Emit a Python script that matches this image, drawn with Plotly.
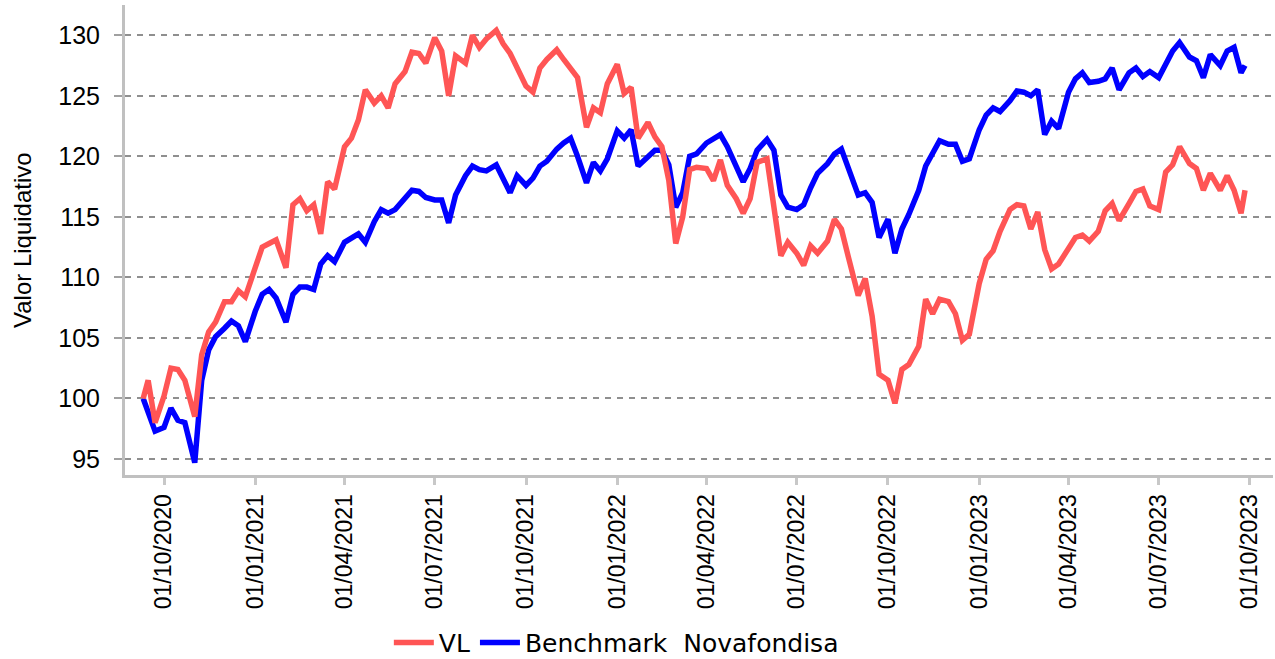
import plotly.graph_objects as go

dates = [
    "2020-09-10", "2020-09-15", "2020-09-22",
    "2020-10-01", "2020-10-08", "2020-10-15", "2020-10-22",
    "2020-11-01", "2020-11-08", "2020-11-15", "2020-11-22",
    "2020-12-01", "2020-12-08", "2020-12-15", "2020-12-22",
    "2021-01-01", "2021-01-08", "2021-01-15", "2021-01-22",
    "2021-02-01", "2021-02-08", "2021-02-15", "2021-02-22",
    "2021-03-01", "2021-03-08", "2021-03-15", "2021-03-22",
    "2021-04-01", "2021-04-08", "2021-04-15", "2021-04-22",
    "2021-05-01", "2021-05-08", "2021-05-15", "2021-05-22",
    "2021-06-01", "2021-06-08", "2021-06-15", "2021-06-22",
    "2021-07-01", "2021-07-08", "2021-07-15", "2021-07-22",
    "2021-08-01", "2021-08-08", "2021-08-15", "2021-08-22",
    "2021-09-01", "2021-09-08", "2021-09-15", "2021-09-22",
    "2021-10-01", "2021-10-08", "2021-10-15", "2021-10-22",
    "2021-11-01", "2021-11-08", "2021-11-15", "2021-11-22",
    "2021-12-01", "2021-12-08", "2021-12-15", "2021-12-22",
    "2022-01-01", "2022-01-08", "2022-01-15", "2022-01-22",
    "2022-02-01", "2022-02-08", "2022-02-15", "2022-02-22",
    "2022-03-01", "2022-03-08", "2022-03-15", "2022-03-22",
    "2022-04-01", "2022-04-08", "2022-04-15", "2022-04-22",
    "2022-05-01", "2022-05-08", "2022-05-15", "2022-05-22",
    "2022-06-01", "2022-06-08", "2022-06-15", "2022-06-22",
    "2022-07-01", "2022-07-08", "2022-07-15", "2022-07-22",
    "2022-08-01", "2022-08-08", "2022-08-15", "2022-08-22",
    "2022-09-01", "2022-09-08", "2022-09-15", "2022-09-22",
    "2022-10-01", "2022-10-08", "2022-10-15", "2022-10-22",
    "2022-11-01", "2022-11-08", "2022-11-15", "2022-11-22",
    "2022-12-01", "2022-12-08", "2022-12-15", "2022-12-22",
    "2023-01-01", "2023-01-08", "2023-01-15", "2023-01-22",
    "2023-02-01", "2023-02-08", "2023-02-15", "2023-02-22",
    "2023-03-01", "2023-03-08", "2023-03-15", "2023-03-22",
    "2023-04-01", "2023-04-08", "2023-04-15", "2023-04-22",
    "2023-05-01", "2023-05-08", "2023-05-15", "2023-05-22",
    "2023-06-01", "2023-06-08", "2023-06-15", "2023-06-22",
    "2023-07-01", "2023-07-08", "2023-07-15", "2023-07-22",
    "2023-08-01", "2023-08-08", "2023-08-15", "2023-08-22",
    "2023-09-01", "2023-09-08", "2023-09-15", "2023-09-22", "2023-09-26",
]

vl = [
    100.0, 101.5, 98.0,
    100.2, 102.5, 102.4, 101.5,
    98.5, 103.6, 105.5, 106.3,
    108.0, 108.0, 108.9, 108.4,
    111.0, 112.5, 112.8, 113.1,
    110.8, 116.0, 116.5, 115.5,
    116.0, 113.6, 117.9, 117.3,
    120.8, 121.5, 123.0, 125.5,
    124.4, 125.0, 124.0, 126.0,
    127.0, 128.6, 128.5, 127.7,
    129.8, 128.7, 125.0, 128.3,
    127.7, 130.0, 129.0, 129.7,
    130.4, 129.3, 128.5, 127.2,
    125.8, 125.3, 127.3, 128.0,
    128.8, 128.0, 127.3, 126.5,
    122.4, 124.0, 123.6, 126.0,
    127.6, 125.2, 125.7, 121.5,
    122.8, 121.6, 120.8, 118.0,
    112.8, 115.0, 118.9, 119.1,
    119.0, 118.0, 119.7, 117.6,
    116.5, 115.3, 116.5, 119.5,
    119.8, 115.8, 111.8, 112.9,
    112.0, 111.0, 112.6, 112.0,
    113.0, 114.8, 114.0, 111.7,
    108.5, 109.9, 106.8, 102.0,
    101.5, 99.6, 102.4, 102.8,
    104.3, 108.2, 107.0, 108.2,
    108.0, 107.0, 104.8, 105.3,
    109.5, 111.5, 112.2, 113.8,
    115.6, 116.0, 115.9, 114.0,
    115.4, 112.3, 110.7, 111.1,
    112.4, 113.3, 113.5, 113.0,
    113.8, 115.5, 116.1, 114.7,
    116.1, 117.1, 117.3, 115.9,
    115.6, 118.7, 119.3, 120.8,
    119.4, 119.0, 117.2, 118.6,
    117.2, 118.4, 117.2, 115.3, 117.2,
]

benchmark = [
    100.0, 98.8, 97.3,
    97.6, 99.2, 98.2, 98.0,
    94.7, 101.5, 104.0, 105.1,
    105.8, 106.4, 106.0, 104.7,
    107.2, 108.6, 109.0, 108.3,
    106.3, 108.6, 109.2, 109.2,
    109.0, 111.1, 111.8, 111.3,
    112.9, 113.2, 113.6, 112.9,
    114.6, 115.6, 115.3, 115.6,
    116.6, 117.2, 117.1, 116.6,
    116.4, 116.4, 114.5, 116.8,
    118.4, 119.2, 118.9, 118.8,
    119.3, 118.1, 117.0, 118.4,
    117.6, 118.2, 119.2, 119.6,
    120.6, 121.1, 121.5, 120.0,
    117.8, 119.5, 118.8, 119.8,
    122.1, 121.5, 122.2, 119.2,
    120.0, 120.5, 120.5, 119.3,
    115.8, 117.0, 120.0, 120.2,
    121.1, 121.4, 121.8, 120.8,
    119.2, 117.9, 119.0, 120.5,
    121.4, 120.5, 116.8, 115.8,
    115.6, 116.0, 117.4, 118.6,
    119.4, 120.2, 120.6, 119.0,
    116.8, 117.0, 116.2, 113.3,
    114.8, 112.0, 114.0, 115.2,
    117.2, 119.2, 120.3, 121.3,
    121.0, 121.0, 119.6, 119.8,
    122.2, 123.4, 124.0, 123.7,
    124.6, 125.4, 125.3, 125.0,
    125.5, 121.8, 122.9, 122.3,
    125.3, 126.4, 126.9, 126.1,
    126.2, 126.4, 127.3, 125.5,
    126.9, 127.3, 126.6, 127.0,
    126.5, 127.5, 128.7, 129.4,
    128.2, 127.9, 126.5, 128.4,
    127.5, 128.7, 129.0, 126.9, 127.5,
]

tick_dates = ["2020-10-01", "2021-01-01", "2021-04-01", "2021-07-01",
              "2021-10-01", "2022-01-01", "2022-04-01", "2022-07-01",
              "2022-10-01", "2023-01-01", "2023-04-01", "2023-07-01",
              "2023-10-01"]
tick_labels = ["01/10/2020", "01/01/2021", "01/04/2021", "01/07/2021",
               "01/10/2021", "01/01/2022", "01/04/2022", "01/07/2022",
               "01/10/2022", "01/01/2023", "01/04/2023", "01/07/2023",
               "01/10/2023"]
y_ticks = [95, 100, 105, 110, 115, 120, 125, 130]

fig = go.Figure()
fig.add_trace(go.Scatter(x=dates, y=benchmark, mode="lines",
                         name="Benchmark\u00a0 Novafondisa", legendrank=2,
                         line=dict(color="#0000FF", width=5.5)))
fig.add_trace(go.Scatter(x=dates, y=vl, mode="lines", name="VL", legendrank=1,
                         line=dict(color="#FF5555", width=5.5)))

fig.update_layout(
    width=1275, height=659,
    margin=dict(l=125, r=2, t=5, b=184, autoexpand=False),
    paper_bgcolor="white", plot_bgcolor="white",
    showlegend=True,
    legend=dict(orientation="h", x=0.428, xanchor="center", y=-0.357, yanchor="middle",
                font=dict(family="DejaVu Sans", size=25, color="#000000"),
                itemwidth=40),
    xaxis=dict(
        type="date",
        range=["2020-08-22 16:00", "2023-10-24 05:00"],
        tickmode="array", tickvals=tick_dates, ticktext=tick_labels,
        tickangle=-90,
        tickfont=dict(family="Liberation Sans", size=23, color="#000000"),
        showgrid=False, zeroline=False,
        showline=True, linecolor="#c0c0c0", linewidth=3,
        ticks="outside", ticklen=7, tickwidth=3, tickcolor="#c8c8c8",
        automargin=False,
    ),
    yaxis=dict(
        range=[93.68, 132.5],
        tickmode="array", tickvals=y_ticks,
        tickfont=dict(family="Liberation Sans", size=25, color="#000000"),
        showgrid=True, gridcolor="#8f8f8f", gridwidth=1.5, griddash="6px,6px",
        zeroline=False,
        showline=True, linecolor="#c0c0c0", linewidth=3,
        ticks="outside", ticklen=8, tickwidth=1.5, tickcolor="#a0a0a0",
        ticklabelstandoff=9,
        automargin=False,
    ),
    annotations=[dict(text="Valor Liquidativo", xref="paper", yref="paper",
                      x=-0.0897, y=0.5, xanchor="center", yanchor="middle",
                      textangle=-90, showarrow=False,
                      font=dict(family="Liberation Sans", size=24, color="#000000"))],
)

fig.write_html("out.html", config={"displayModeBar": False},
               post_script="document.body.style.margin='0';document.body.style.overflow='hidden';")
